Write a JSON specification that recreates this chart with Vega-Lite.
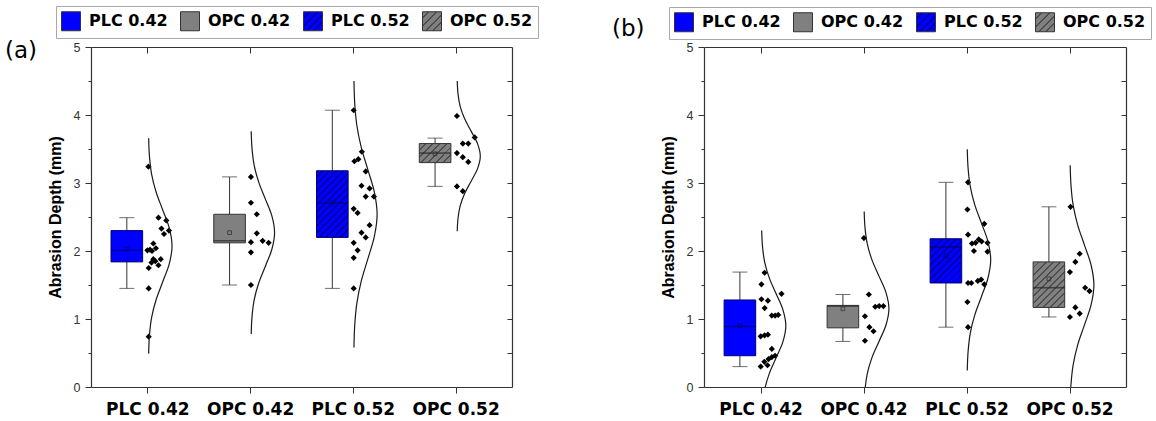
{
  "$schema": "https://vega.github.io/schema/vega-lite/v6.json",
  "padding": {"left": 4, "top": 5, "right": 4, "bottom": 3},
  "background": "white",
  "config": {
    "view": {"stroke": null},
    "axis": {"domainColor": "#333", "domainWidth": 1.2, "tickColor": "#333", "tickWidth": 1, "grid": false}
  },
  "datasets": {
    "boxes": [
      {"panel":"a","group":"PLC 0.42","pos":0.8,"lo":1.45,"q1":1.84,"med":2.01,"q3":2.30,"hi":2.49,"mean":2.03},
      {"panel":"a","group":"OPC 0.42","pos":1.8,"lo":1.50,"q1":2.12,"med":2.15,"q3":2.54,"hi":3.09,"mean":2.27},
      {"panel":"a","group":"PLC 0.52","pos":2.8,"lo":1.45,"q1":2.20,"med":2.71,"q3":3.18,"hi":4.07,"mean":2.71},
      {"panel":"a","group":"OPC 0.52","pos":3.8,"lo":2.95,"q1":3.30,"med":3.44,"q3":3.58,"hi":3.66,"mean":3.43},
      {"panel":"b","group":"PLC 0.42","pos":0.8,"lo":0.30,"q1":0.46,"med":0.89,"q3":1.28,"hi":1.69,"mean":0.90},
      {"panel":"b","group":"OPC 0.42","pos":1.8,"lo":0.67,"q1":0.87,"med":1.19,"q3":1.20,"hi":1.36,"mean":1.15},
      {"panel":"b","group":"PLC 0.52","pos":2.8,"lo":0.88,"q1":1.53,"med":2.06,"q3":2.18,"hi":3.01,"mean":1.93},
      {"panel":"b","group":"OPC 0.52","pos":3.8,"lo":1.03,"q1":1.17,"med":1.46,"q3":1.84,"hi":2.65,"mean":1.59}
    ],
    "points": [
      {"panel":"a","group":"PLC 0.42","pos":1.01,"v":3.24},
      {"panel":"a","group":"PLC 0.42","pos":1.108,"v":2.49},
      {"panel":"a","group":"PLC 0.42","pos":1.184,"v":2.45},
      {"panel":"a","group":"PLC 0.42","pos":1.137,"v":2.33},
      {"panel":"a","group":"PLC 0.42","pos":1.21,"v":2.30},
      {"panel":"a","group":"PLC 0.42","pos":1.162,"v":2.25},
      {"panel":"a","group":"PLC 0.42","pos":1.058,"v":2.11},
      {"panel":"a","group":"PLC 0.42","pos":1.083,"v":2.04},
      {"panel":"a","group":"PLC 0.42","pos":1.026,"v":2.02},
      {"panel":"a","group":"PLC 0.42","pos":1.0,"v":2.01},
      {"panel":"a","group":"PLC 0.42","pos":1.045,"v":2.00},
      {"panel":"a","group":"PLC 0.42","pos":1.058,"v":1.88},
      {"panel":"a","group":"PLC 0.42","pos":1.13,"v":1.88},
      {"panel":"a","group":"PLC 0.42","pos":1.077,"v":1.85},
      {"panel":"a","group":"PLC 0.42","pos":1.04,"v":1.83},
      {"panel":"a","group":"PLC 0.42","pos":1.108,"v":1.79},
      {"panel":"a","group":"PLC 0.42","pos":1.013,"v":1.75},
      {"panel":"a","group":"PLC 0.42","pos":1.013,"v":1.45},
      {"panel":"a","group":"PLC 0.42","pos":1.013,"v":0.74},
      {"panel":"a","group":"OPC 0.42","pos":2.008,"v":3.09},
      {"panel":"a","group":"OPC 0.42","pos":2.008,"v":2.71},
      {"panel":"a","group":"OPC 0.42","pos":2.065,"v":2.54},
      {"panel":"a","group":"OPC 0.42","pos":2.065,"v":2.26},
      {"panel":"a","group":"OPC 0.42","pos":2.122,"v":2.15},
      {"panel":"a","group":"OPC 0.42","pos":2.18,"v":2.12},
      {"panel":"a","group":"OPC 0.42","pos":2.008,"v":2.13},
      {"panel":"a","group":"OPC 0.42","pos":2.008,"v":1.98},
      {"panel":"a","group":"OPC 0.42","pos":2.008,"v":1.50},
      {"panel":"a","group":"PLC 0.52","pos":3.008,"v":4.07},
      {"panel":"a","group":"PLC 0.52","pos":3.087,"v":3.46},
      {"panel":"a","group":"PLC 0.52","pos":3.053,"v":3.35},
      {"panel":"a","group":"PLC 0.52","pos":3.015,"v":3.32},
      {"panel":"a","group":"PLC 0.52","pos":3.125,"v":3.17},
      {"panel":"a","group":"PLC 0.52","pos":3.084,"v":2.96},
      {"panel":"a","group":"PLC 0.52","pos":3.163,"v":2.92},
      {"panel":"a","group":"PLC 0.52","pos":3.125,"v":2.80},
      {"panel":"a","group":"PLC 0.52","pos":3.205,"v":2.80},
      {"panel":"a","group":"PLC 0.52","pos":3.008,"v":2.62},
      {"panel":"a","group":"PLC 0.52","pos":3.046,"v":2.56},
      {"panel":"a","group":"PLC 0.52","pos":3.163,"v":2.38},
      {"panel":"a","group":"PLC 0.52","pos":3.084,"v":2.27},
      {"panel":"a","group":"PLC 0.52","pos":3.125,"v":2.20},
      {"panel":"a","group":"PLC 0.52","pos":3.008,"v":2.12},
      {"panel":"a","group":"PLC 0.52","pos":3.046,"v":2.01},
      {"panel":"a","group":"PLC 0.52","pos":3.008,"v":1.90},
      {"panel":"a","group":"PLC 0.52","pos":3.008,"v":1.45},
      {"panel":"a","group":"OPC 0.52","pos":4.013,"v":3.985},
      {"panel":"a","group":"OPC 0.52","pos":4.186,"v":3.67},
      {"panel":"a","group":"OPC 0.52","pos":4.07,"v":3.58},
      {"panel":"a","group":"OPC 0.52","pos":4.123,"v":3.58},
      {"panel":"a","group":"OPC 0.52","pos":4.013,"v":3.44},
      {"panel":"a","group":"OPC 0.52","pos":4.07,"v":3.38},
      {"panel":"a","group":"OPC 0.52","pos":4.123,"v":3.31},
      {"panel":"a","group":"OPC 0.52","pos":4.013,"v":2.95},
      {"panel":"a","group":"OPC 0.52","pos":4.07,"v":2.88},
      {"panel":"b","group":"PLC 0.42","pos":1.04,"v":1.68},
      {"panel":"b","group":"PLC 0.42","pos":1.009,"v":1.51},
      {"panel":"b","group":"PLC 0.42","pos":1.204,"v":1.37},
      {"panel":"b","group":"PLC 0.42","pos":1.009,"v":1.29},
      {"panel":"b","group":"PLC 0.42","pos":1.072,"v":1.27},
      {"panel":"b","group":"PLC 0.42","pos":1.04,"v":1.16},
      {"panel":"b","group":"PLC 0.42","pos":1.11,"v":1.05},
      {"panel":"b","group":"PLC 0.42","pos":1.142,"v":1.05},
      {"panel":"b","group":"PLC 0.42","pos":1.172,"v":1.06},
      {"panel":"b","group":"PLC 0.42","pos":1.002,"v":0.745},
      {"panel":"b","group":"PLC 0.42","pos":1.04,"v":0.76},
      {"panel":"b","group":"PLC 0.42","pos":1.072,"v":0.77},
      {"panel":"b","group":"PLC 0.42","pos":1.11,"v":0.56},
      {"panel":"b","group":"PLC 0.42","pos":1.142,"v":0.46},
      {"panel":"b","group":"PLC 0.42","pos":1.11,"v":0.44},
      {"panel":"b","group":"PLC 0.42","pos":1.078,"v":0.41},
      {"panel":"b","group":"PLC 0.42","pos":1.037,"v":0.37},
      {"panel":"b","group":"PLC 0.42","pos":1.068,"v":0.32},
      {"panel":"b","group":"PLC 0.42","pos":1.002,"v":0.30},
      {"panel":"b","group":"OPC 0.42","pos":2.004,"v":2.19},
      {"panel":"b","group":"OPC 0.42","pos":2.052,"v":1.36},
      {"panel":"b","group":"OPC 0.42","pos":2.114,"v":1.18},
      {"panel":"b","group":"OPC 0.42","pos":2.152,"v":1.19},
      {"panel":"b","group":"OPC 0.42","pos":2.193,"v":1.19},
      {"panel":"b","group":"OPC 0.42","pos":2.014,"v":1.04},
      {"panel":"b","group":"OPC 0.42","pos":2.057,"v":0.88},
      {"panel":"b","group":"OPC 0.42","pos":2.097,"v":0.82},
      {"panel":"b","group":"OPC 0.42","pos":2.014,"v":0.68},
      {"panel":"b","group":"PLC 0.52","pos":3.015,"v":3.01},
      {"panel":"b","group":"PLC 0.52","pos":3.009,"v":2.61},
      {"panel":"b","group":"PLC 0.52","pos":3.173,"v":2.40},
      {"panel":"b","group":"PLC 0.52","pos":3.015,"v":2.24},
      {"panel":"b","group":"PLC 0.52","pos":3.053,"v":2.11},
      {"panel":"b","group":"PLC 0.52","pos":3.088,"v":2.12},
      {"panel":"b","group":"PLC 0.52","pos":3.119,"v":2.17},
      {"panel":"b","group":"PLC 0.52","pos":3.147,"v":2.14},
      {"panel":"b","group":"PLC 0.52","pos":3.204,"v":2.12},
      {"panel":"b","group":"PLC 0.52","pos":3.072,"v":2.00},
      {"panel":"b","group":"PLC 0.52","pos":3.204,"v":1.99},
      {"panel":"b","group":"PLC 0.52","pos":3.015,"v":1.53},
      {"panel":"b","group":"PLC 0.52","pos":3.047,"v":1.53},
      {"panel":"b","group":"PLC 0.52","pos":3.11,"v":1.56},
      {"panel":"b","group":"PLC 0.52","pos":3.142,"v":1.58},
      {"panel":"b","group":"PLC 0.52","pos":3.173,"v":1.51},
      {"panel":"b","group":"PLC 0.52","pos":3.009,"v":1.25},
      {"panel":"b","group":"PLC 0.52","pos":3.015,"v":0.88},
      {"panel":"b","group":"OPC 0.52","pos":4.01,"v":2.65},
      {"panel":"b","group":"OPC 0.52","pos":4.099,"v":1.96},
      {"panel":"b","group":"OPC 0.52","pos":4.057,"v":1.84},
      {"panel":"b","group":"OPC 0.52","pos":4.004,"v":1.69},
      {"panel":"b","group":"OPC 0.52","pos":4.152,"v":1.46},
      {"panel":"b","group":"OPC 0.52","pos":4.194,"v":1.41},
      {"panel":"b","group":"OPC 0.52","pos":4.057,"v":1.17},
      {"panel":"b","group":"OPC 0.52","pos":4.099,"v":1.08},
      {"panel":"b","group":"OPC 0.52","pos":4.004,"v":1.03}
    ],
    "curves": [
      {"panel":"a","group":"PLC 0.42","v":0.491,"pos":1.0125},
      {"panel":"a","group":"PLC 0.42","v":0.755,"pos":1.0201},
      {"panel":"a","group":"PLC 0.42","v":1.019,"pos":1.041},
      {"panel":"a","group":"PLC 0.42","v":1.283,"pos":1.0848},
      {"panel":"a","group":"PLC 0.42","v":1.547,"pos":1.1496},
      {"panel":"a","group":"PLC 0.42","v":1.811,"pos":1.2129},
      {"panel":"a","group":"PLC 0.42","v":2.075,"pos":1.24},
      {"panel":"a","group":"PLC 0.42","v":2.339,"pos":1.2129},
      {"panel":"a","group":"PLC 0.42","v":2.603,"pos":1.1496},
      {"panel":"a","group":"PLC 0.42","v":2.867,"pos":1.0848},
      {"panel":"a","group":"PLC 0.42","v":3.131,"pos":1.041},
      {"panel":"a","group":"PLC 0.42","v":3.395,"pos":1.0201},
      {"panel":"a","group":"PLC 0.42","v":3.659,"pos":1.0125},
      {"panel":"a","group":"OPC 0.42","v":0.779,"pos":2.0105},
      {"panel":"a","group":"OPC 0.42","v":1.028,"pos":2.0181},
      {"panel":"a","group":"OPC 0.42","v":1.276,"pos":2.039},
      {"panel":"a","group":"OPC 0.42","v":1.525,"pos":2.0828},
      {"panel":"a","group":"OPC 0.42","v":1.773,"pos":2.1476},
      {"panel":"a","group":"OPC 0.42","v":2.022,"pos":2.2109},
      {"panel":"a","group":"OPC 0.42","v":2.27,"pos":2.238},
      {"panel":"a","group":"OPC 0.42","v":2.519,"pos":2.2109},
      {"panel":"a","group":"OPC 0.42","v":2.767,"pos":2.1476},
      {"panel":"a","group":"OPC 0.42","v":3.016,"pos":2.0828},
      {"panel":"a","group":"OPC 0.42","v":3.264,"pos":2.039},
      {"panel":"a","group":"OPC 0.42","v":3.513,"pos":2.0181},
      {"panel":"a","group":"OPC 0.42","v":3.761,"pos":2.0105},
      {"panel":"a","group":"PLC 0.52","v":0.581,"pos":3.0105},
      {"panel":"a","group":"PLC 0.52","v":0.908,"pos":3.018},
      {"panel":"a","group":"PLC 0.52","v":1.234,"pos":3.0388},
      {"panel":"a","group":"PLC 0.52","v":1.561,"pos":3.0821},
      {"panel":"a","group":"PLC 0.52","v":1.887,"pos":3.1464},
      {"panel":"a","group":"PLC 0.52","v":2.214,"pos":3.2091},
      {"panel":"a","group":"PLC 0.52","v":2.54,"pos":3.236},
      {"panel":"a","group":"PLC 0.52","v":2.867,"pos":3.2091},
      {"panel":"a","group":"PLC 0.52","v":3.193,"pos":3.1464},
      {"panel":"a","group":"PLC 0.52","v":3.52,"pos":3.0821},
      {"panel":"a","group":"PLC 0.52","v":3.846,"pos":3.0388},
      {"panel":"a","group":"PLC 0.52","v":4.173,"pos":3.018},
      {"panel":"a","group":"PLC 0.52","v":4.499,"pos":3.0105},
      {"panel":"a","group":"OPC 0.52","v":2.291,"pos":4.0155},
      {"panel":"a","group":"OPC 0.52","v":2.475,"pos":4.023},
      {"panel":"a","group":"OPC 0.52","v":2.659,"pos":4.0436},
      {"panel":"a","group":"OPC 0.52","v":2.843,"pos":4.0868},
      {"panel":"a","group":"OPC 0.52","v":3.027,"pos":4.1508},
      {"panel":"a","group":"OPC 0.52","v":3.211,"pos":4.2132},
      {"panel":"a","group":"OPC 0.52","v":3.395,"pos":4.24},
      {"panel":"a","group":"OPC 0.52","v":3.579,"pos":4.2132},
      {"panel":"a","group":"OPC 0.52","v":3.763,"pos":4.1508},
      {"panel":"a","group":"OPC 0.52","v":3.947,"pos":4.0868},
      {"panel":"a","group":"OPC 0.52","v":4.131,"pos":4.0436},
      {"panel":"a","group":"OPC 0.52","v":4.315,"pos":4.023},
      {"panel":"a","group":"OPC 0.52","v":4.499,"pos":4.0155},
      {"panel":"b","group":"PLC 0.42","v":-0.501,"pos":1.0116},
      {"panel":"b","group":"PLC 0.42","v":-0.268,"pos":1.0194},
      {"panel":"b","group":"PLC 0.42","v":-0.034,"pos":1.041},
      {"panel":"b","group":"PLC 0.42","v":0.2,"pos":1.086},
      {"panel":"b","group":"PLC 0.42","v":0.433,"pos":1.1529},
      {"panel":"b","group":"PLC 0.42","v":0.667,"pos":1.218},
      {"panel":"b","group":"PLC 0.42","v":0.9,"pos":1.246},
      {"panel":"b","group":"PLC 0.42","v":1.134,"pos":1.218},
      {"panel":"b","group":"PLC 0.42","v":1.367,"pos":1.1529},
      {"panel":"b","group":"PLC 0.42","v":1.601,"pos":1.086},
      {"panel":"b","group":"PLC 0.42","v":1.834,"pos":1.041},
      {"panel":"b","group":"PLC 0.42","v":2.068,"pos":1.0194},
      {"panel":"b","group":"PLC 0.42","v":2.301,"pos":1.0116},
      {"panel":"b","group":"OPC 0.42","v":-0.281,"pos":2.0067},
      {"panel":"b","group":"OPC 0.42","v":-0.043,"pos":2.0147},
      {"panel":"b","group":"OPC 0.42","v":0.196,"pos":2.0368},
      {"panel":"b","group":"OPC 0.42","v":0.435,"pos":2.083},
      {"panel":"b","group":"OPC 0.42","v":0.673,"pos":2.1515},
      {"panel":"b","group":"OPC 0.42","v":0.912,"pos":2.2183},
      {"panel":"b","group":"OPC 0.42","v":1.15,"pos":2.247},
      {"panel":"b","group":"OPC 0.42","v":1.389,"pos":2.2183},
      {"panel":"b","group":"OPC 0.42","v":1.627,"pos":2.1515},
      {"panel":"b","group":"OPC 0.42","v":1.866,"pos":2.083},
      {"panel":"b","group":"OPC 0.42","v":2.104,"pos":2.0368},
      {"panel":"b","group":"OPC 0.42","v":2.343,"pos":2.0147},
      {"panel":"b","group":"OPC 0.42","v":2.581,"pos":2.0067},
      {"panel":"b","group":"PLC 0.52","v":0.244,"pos":3.0075},
      {"panel":"b","group":"PLC 0.52","v":0.515,"pos":3.0151},
      {"panel":"b","group":"PLC 0.52","v":0.786,"pos":3.036},
      {"panel":"b","group":"PLC 0.52","v":1.057,"pos":3.0798},
      {"panel":"b","group":"PLC 0.52","v":1.328,"pos":3.1446},
      {"panel":"b","group":"PLC 0.52","v":1.599,"pos":3.2079},
      {"panel":"b","group":"PLC 0.52","v":1.87,"pos":3.235},
      {"panel":"b","group":"PLC 0.52","v":2.141,"pos":3.2079},
      {"panel":"b","group":"PLC 0.52","v":2.412,"pos":3.1446},
      {"panel":"b","group":"PLC 0.52","v":2.683,"pos":3.0798},
      {"panel":"b","group":"PLC 0.52","v":2.954,"pos":3.036},
      {"panel":"b","group":"PLC 0.52","v":3.225,"pos":3.0151},
      {"panel":"b","group":"PLC 0.52","v":3.496,"pos":3.0075},
      {"panel":"b","group":"OPC 0.52","v":-0.261,"pos":4.0066},
      {"panel":"b","group":"OPC 0.52","v":0.033,"pos":4.0143},
      {"panel":"b","group":"OPC 0.52","v":0.326,"pos":4.0355},
      {"panel":"b","group":"OPC 0.52","v":0.62,"pos":4.0797},
      {"panel":"b","group":"OPC 0.52","v":0.913,"pos":4.1454},
      {"panel":"b","group":"OPC 0.52","v":1.207,"pos":4.2095},
      {"panel":"b","group":"OPC 0.52","v":1.5,"pos":4.237},
      {"panel":"b","group":"OPC 0.52","v":1.794,"pos":4.2095},
      {"panel":"b","group":"OPC 0.52","v":2.087,"pos":4.1454},
      {"panel":"b","group":"OPC 0.52","v":2.381,"pos":4.0797},
      {"panel":"b","group":"OPC 0.52","v":2.674,"pos":4.0355},
      {"panel":"b","group":"OPC 0.52","v":2.968,"pos":4.0143},
      {"panel":"b","group":"OPC 0.52","v":3.261,"pos":4.0066}
    ]
  },
  "spacing": 72,
  "resolve": {"scale": {"fill": "independent"}, "legend": {"fill": "independent"}},
  "hconcat": [
    {
      "width": 421,
      "height": 340,
      "title": {"text": "(a)", "orient": "left", "anchor": "end", "frame": "group", "angle": 0, "align": "right", "baseline": "alphabetic", "offset": -22, "dy": 11, "font": "DejaVu Sans", "fontSize": 23, "fontWeight": "normal", "color": "#000"},
      "resolve": {"axis": {"x": "independent", "y": "independent"}},
      "layer": [
        {
          "data": {"name": "boxes"},
          "transform": [{"filter": "datum.panel === 'a'"}],
          "mark": {"type": "rule", "color": "#333", "strokeWidth": 1},
          "encoding": {
            "x": {"field": "pos", "type": "quantitative", "scale": {"domain": [0.5, 4.5], "nice": false, "zero": false},
              "axis": {"orient": "bottom", "values": [1, 2, 3, 4], "labelExpr": "datum.value == 1 ? 'PLC 0.42' : datum.value == 2 ? 'OPC 0.42' : datum.value == 3 ? 'PLC 0.52' : 'OPC 0.52'", "labelFont": "DejaVu Sans", "labelFontSize": 17, "labelFontWeight": "bold", "labelColor": "#000", "tickSize": 6, "labelPadding": 8, "title": null}},
            "y": {"field": "lo", "type": "quantitative", "scale": {"domain": [0, 5], "nice": false, "zero": false},
              "axis": {"orient": "left", "values": [0, 1, 2, 3, 4, 5], "title": "Abrasion Depth (mm)", "titleFont": "Liberation Sans", "titleFontSize": 16, "titleFontWeight": "bold", "titleColor": "#000", "titlePadding": 10, "labelFont": "Liberation Sans", "labelFontSize": 12.5, "labelColor": "#333", "tickSize": 6, "labelPadding": 5}},
            "y2": {"field": "hi"}
          }
        },
        {
          "data": {"name": "boxes"},
          "transform": [{"filter": "datum.panel === 'a'"}],
          "mark": {"type": "tick", "orient": "horizontal", "size": 15, "thickness": 1, "color": "#333"},
          "encoding": {
            "x": {"field": "pos", "type": "quantitative", "scale": {"domain": [0.5, 4.5], "nice": false, "zero": false},
              "axis": {"orient": "top", "values": [1, 2, 3, 4], "labels": false, "tickSize": -6, "title": null}},
            "y": {"field": "lo", "type": "quantitative", "scale": {"domain": [0, 5], "nice": false, "zero": false},
              "axis": {"orient": "right", "values": [0.5, 1, 1.5, 2, 2.5, 3, 3.5, 4, 4.5], "labels": false, "tickSize": -5, "title": null}}
          }
        },
        {
          "data": {"name": "boxes"},
          "transform": [{"filter": "datum.panel === 'a'"}],
          "mark": {"type": "tick", "orient": "horizontal", "size": 15, "thickness": 1, "color": "#333"},
          "encoding": {
            "x": {"field": "pos", "type": "quantitative", "scale": {"domain": [0.5, 4.5], "nice": false, "zero": false}, "axis": null},
            "y": {"field": "hi", "type": "quantitative", "scale": {"domain": [0, 5], "nice": false, "zero": false},
              "axis": {"orient": "left", "values": [0.5, 1.5, 2.5, 3.5, 4.5], "labels": false, "tickSize": 3, "domain": false, "title": null}}
          }
        },
        {
          "data": {"name": "boxes"},
          "transform": [{"filter": "datum.panel === 'a'"}],
          "mark": {"type": "bar", "width": 31.6, "strokeWidth": 1},
          "encoding": {
            "x": {"field": "pos", "type": "quantitative", "scale": {"domain": [0.5, 4.5], "nice": false, "zero": false}, "axis": null},
            "y": {"field": "q1", "type": "quantitative", "scale": {"domain": [0, 5], "nice": false, "zero": false}, "axis": null},
            "y2": {"field": "q3"},
            "fill": {
              "field": "group", "type": "nominal",
              "scale": {"domain": ["PLC 0.42", "OPC 0.42", "PLC 0.52", "OPC 0.52"],
                "range": ["#0000ff", "#808080",
                  {"expr": "{'gradient':'linear','x1':0,'y1':0,'x2':1,'y2':1,'stops':[{'offset':0,'color':'#0000ff'},{'offset':0.15,'color':'#0000ff'},{'offset':0.15,'color':'#000099'},{'offset':0.2,'color':'#000099'},{'offset':0.2,'color':'#0000ff'},{'offset':0.35,'color':'#0000ff'},{'offset':0.35,'color':'#000099'},{'offset':0.4,'color':'#000099'},{'offset':0.4,'color':'#0000ff'},{'offset':0.55,'color':'#0000ff'},{'offset':0.55,'color':'#000099'},{'offset':0.6,'color':'#000099'},{'offset':0.6,'color':'#0000ff'},{'offset':0.75,'color':'#0000ff'},{'offset':0.75,'color':'#000099'},{'offset':0.8,'color':'#000099'},{'offset':0.8,'color':'#0000ff'},{'offset':0.95,'color':'#0000ff'},{'offset':0.95,'color':'#000099'},{'offset':1,'color':'#000099'}]}"},
                  {"expr": "{'gradient':'linear','x1':0,'y1':0,'x2':1,'y2':1,'stops':[{'offset':0,'color':'#808080'},{'offset':0.15,'color':'#808080'},{'offset':0.15,'color':'#4d4d4d'},{'offset':0.2,'color':'#4d4d4d'},{'offset':0.2,'color':'#808080'},{'offset':0.35,'color':'#808080'},{'offset':0.35,'color':'#4d4d4d'},{'offset':0.4,'color':'#4d4d4d'},{'offset':0.4,'color':'#808080'},{'offset':0.55,'color':'#808080'},{'offset':0.55,'color':'#4d4d4d'},{'offset':0.6,'color':'#4d4d4d'},{'offset':0.6,'color':'#808080'},{'offset':0.75,'color':'#808080'},{'offset':0.75,'color':'#4d4d4d'},{'offset':0.8,'color':'#4d4d4d'},{'offset':0.8,'color':'#808080'},{'offset':0.95,'color':'#808080'},{'offset':0.95,'color':'#4d4d4d'},{'offset':1,'color':'#4d4d4d'}]}"}
                ]},
              "legend": {"orient": "none", "legendX": -35, "legendY": -41, "direction": "horizontal", "columns": 4, "title": null, "symbolType": "square", "symbolSize": 361, "symbolStrokeColor": "#333", "symbolStrokeWidth": 1, "labelFont": "DejaVu Sans", "labelFontSize": 16, "labelFontWeight": "bold", "labelColor": "#000", "labelOffset": 8, "labelLimit": 300, "columnPadding": 10, "padding": 5, "strokeColor": "#aaaaaa", "fillColor": "#ffffff"},
              "condition": [
                {"test": "datum.group === 'PLC 0.52'", "value": {"gradient": "linear", "x1": 0, "y1": 0, "x2": 0.571, "y2": 1.2035, "stops": [
                  {"offset":0,"color":"#0000ff"},{"offset":0.0536,"color":"#0000ff"},{"offset":0.0536,"color":"#000099"},{"offset":0.0714,"color":"#000099"},
                  {"offset":0.0714,"color":"#0000ff"},{"offset":0.125,"color":"#0000ff"},{"offset":0.125,"color":"#000099"},{"offset":0.1429,"color":"#000099"},
                  {"offset":0.1429,"color":"#0000ff"},{"offset":0.1964,"color":"#0000ff"},{"offset":0.1964,"color":"#000099"},{"offset":0.2143,"color":"#000099"},
                  {"offset":0.2143,"color":"#0000ff"},{"offset":0.2679,"color":"#0000ff"},{"offset":0.2679,"color":"#000099"},{"offset":0.2857,"color":"#000099"},
                  {"offset":0.2857,"color":"#0000ff"},{"offset":0.3393,"color":"#0000ff"},{"offset":0.3393,"color":"#000099"},{"offset":0.3571,"color":"#000099"},
                  {"offset":0.3571,"color":"#0000ff"},{"offset":0.4107,"color":"#0000ff"},{"offset":0.4107,"color":"#000099"},{"offset":0.4286,"color":"#000099"},
                  {"offset":0.4286,"color":"#0000ff"},{"offset":0.4821,"color":"#0000ff"},{"offset":0.4821,"color":"#000099"},{"offset":0.5,"color":"#000099"},
                  {"offset":0.5,"color":"#0000ff"},{"offset":0.5536,"color":"#0000ff"},{"offset":0.5536,"color":"#000099"},{"offset":0.5714,"color":"#000099"},
                  {"offset":0.5714,"color":"#0000ff"},{"offset":0.625,"color":"#0000ff"},{"offset":0.625,"color":"#000099"},{"offset":0.6429,"color":"#000099"},
                  {"offset":0.6429,"color":"#0000ff"},{"offset":0.6964,"color":"#0000ff"},{"offset":0.6964,"color":"#000099"},{"offset":0.7143,"color":"#000099"},
                  {"offset":0.7143,"color":"#0000ff"},{"offset":0.7679,"color":"#0000ff"},{"offset":0.7679,"color":"#000099"},{"offset":0.7857,"color":"#000099"},
                  {"offset":0.7857,"color":"#0000ff"},{"offset":0.8393,"color":"#0000ff"},{"offset":0.8393,"color":"#000099"},{"offset":0.8571,"color":"#000099"},
                  {"offset":0.8571,"color":"#0000ff"},{"offset":0.9107,"color":"#0000ff"},{"offset":0.9107,"color":"#000099"},{"offset":0.9286,"color":"#000099"},
                  {"offset":0.9286,"color":"#0000ff"},{"offset":0.9821,"color":"#0000ff"},{"offset":0.9821,"color":"#000099"},{"offset":1,"color":"#000099"}]}},
                {"test": "datum.group === 'OPC 0.52'", "value": {"gradient": "linear", "x1": 0, "y1": 0, "x2": 1.176, "y2": 0.7071, "stops": [
                  {"offset":0,"color":"#808080"},{"offset":0.1071,"color":"#808080"},{"offset":0.1071,"color":"#4d4d4d"},{"offset":0.1429,"color":"#4d4d4d"},
                  {"offset":0.1429,"color":"#808080"},{"offset":0.25,"color":"#808080"},{"offset":0.25,"color":"#4d4d4d"},{"offset":0.2857,"color":"#4d4d4d"},
                  {"offset":0.2857,"color":"#808080"},{"offset":0.3929,"color":"#808080"},{"offset":0.3929,"color":"#4d4d4d"},{"offset":0.4286,"color":"#4d4d4d"},
                  {"offset":0.4286,"color":"#808080"},{"offset":0.5357,"color":"#808080"},{"offset":0.5357,"color":"#4d4d4d"},{"offset":0.5714,"color":"#4d4d4d"},
                  {"offset":0.5714,"color":"#808080"},{"offset":0.6786,"color":"#808080"},{"offset":0.6786,"color":"#4d4d4d"},{"offset":0.7143,"color":"#4d4d4d"},
                  {"offset":0.7143,"color":"#808080"},{"offset":0.8214,"color":"#808080"},{"offset":0.8214,"color":"#4d4d4d"},{"offset":0.8571,"color":"#4d4d4d"},
                  {"offset":0.8571,"color":"#808080"},{"offset":0.9643,"color":"#808080"},{"offset":0.9643,"color":"#4d4d4d"},{"offset":1,"color":"#4d4d4d"}]}}
              ]
            },
            "stroke": {"condition": {"test": "indexof(datum.group, 'PLC') === 0", "value": "#00006e"}, "value": "#333333"}
          }
        },
        {
          "data": {"name": "boxes"},
          "transform": [{"filter": "datum.panel === 'a'"}],
          "mark": {"type": "tick", "orient": "horizontal", "size": 31.6, "thickness": 1.6},
          "encoding": {
            "x": {"field": "pos", "type": "quantitative", "scale": {"domain": [0.5, 4.5], "nice": false, "zero": false}, "axis": null},
            "y": {"field": "med", "type": "quantitative", "scale": {"domain": [0, 5], "nice": false, "zero": false}, "axis": null},
            "color": {"condition": {"test": "indexof(datum.group, 'PLC') === 0", "value": "#000070"}, "value": "#262626"}
          }
        },
        {
          "data": {"name": "boxes"},
          "transform": [{"filter": "datum.panel === 'a'"}],
          "mark": {"type": "point", "shape": "square", "size": 14, "filled": false, "strokeWidth": 0.8, "opacity": 1},
          "encoding": {
            "x": {"field": "pos", "type": "quantitative", "scale": {"domain": [0.5, 4.5], "nice": false, "zero": false}, "axis": null},
            "y": {"field": "mean", "type": "quantitative", "scale": {"domain": [0, 5], "nice": false, "zero": false}, "axis": null},
            "color": {"condition": {"test": "indexof(datum.group, 'PLC') === 0", "value": "#000070"}, "value": "#333333"}
          }
        },
        {
          "data": {"name": "points"},
          "transform": [{"filter": "datum.panel === 'a'"}],
          "mark": {"type": "point", "shape": "diamond", "size": 38, "filled": true, "color": "#000", "strokeWidth": 0, "opacity": 1},
          "encoding": {
            "x": {"field": "pos", "type": "quantitative", "scale": {"domain": [0.5, 4.5], "nice": false, "zero": false}, "axis": null},
            "y": {"field": "v", "type": "quantitative", "scale": {"domain": [0, 5], "nice": false, "zero": false}, "axis": null}
          }
        },
        {
          "data": {"name": "curves"},
          "transform": [{"filter": "datum.panel === 'a'"}],
          "mark": {"type": "line", "color": "#1a1a1a", "strokeWidth": 1.2, "interpolate": "catmull-rom", "clip": true},
          "encoding": {
            "x": {"field": "pos", "type": "quantitative", "scale": {"domain": [0.5, 4.5], "nice": false, "zero": false}, "axis": null},
            "y": {"field": "v", "type": "quantitative", "scale": {"domain": [0, 5], "nice": false, "zero": false}, "axis": null},
            "detail": {"field": "group"},
            "order": {"field": "v", "type": "quantitative"}
          }
        }
      ]
    },
    {
      "width": 422,
      "height": 340,
      "title": {"text": "(b)", "orient": "left", "anchor": "end", "frame": "group", "angle": 0, "align": "right", "baseline": "alphabetic", "offset": -17, "dy": -11, "font": "DejaVu Sans", "fontSize": 23, "fontWeight": "normal", "color": "#000"},
      "resolve": {"axis": {"x": "independent", "y": "independent"}},
      "layer": [
        {
          "data": {"name": "boxes"},
          "transform": [{"filter": "datum.panel === 'b'"}],
          "mark": {"type": "rule", "color": "#333", "strokeWidth": 1},
          "encoding": {
            "x": {"field": "pos", "type": "quantitative", "scale": {"domain": [0.5, 4.5], "nice": false, "zero": false},
              "axis": {"orient": "bottom", "values": [1, 2, 3, 4], "labelExpr": "datum.value == 1 ? 'PLC 0.42' : datum.value == 2 ? 'OPC 0.42' : datum.value == 3 ? 'PLC 0.52' : 'OPC 0.52'", "labelFont": "DejaVu Sans", "labelFontSize": 17, "labelFontWeight": "bold", "labelColor": "#000", "tickSize": 6, "labelPadding": 8, "title": null}},
            "y": {"field": "lo", "type": "quantitative", "scale": {"domain": [0, 5], "nice": false, "zero": false},
              "axis": {"orient": "left", "values": [0, 1, 2, 3, 4, 5], "title": "Abrasion Depth (mm)", "titleFont": "Liberation Sans", "titleFontSize": 16, "titleFontWeight": "bold", "titleColor": "#000", "titlePadding": 10, "labelFont": "Liberation Sans", "labelFontSize": 12.5, "labelColor": "#333", "tickSize": 6, "labelPadding": 5}},
            "y2": {"field": "hi"}
          }
        },
        {
          "data": {"name": "boxes"},
          "transform": [{"filter": "datum.panel === 'b'"}],
          "mark": {"type": "tick", "orient": "horizontal", "size": 15, "thickness": 1, "color": "#333"},
          "encoding": {
            "x": {"field": "pos", "type": "quantitative", "scale": {"domain": [0.5, 4.5], "nice": false, "zero": false},
              "axis": {"orient": "top", "values": [1, 2, 3, 4], "labels": false, "tickSize": -6, "title": null}},
            "y": {"field": "lo", "type": "quantitative", "scale": {"domain": [0, 5], "nice": false, "zero": false},
              "axis": {"orient": "right", "values": [0.5, 1, 1.5, 2, 2.5, 3, 3.5, 4, 4.5], "labels": false, "tickSize": -5, "title": null}}
          }
        },
        {
          "data": {"name": "boxes"},
          "transform": [{"filter": "datum.panel === 'b'"}],
          "mark": {"type": "tick", "orient": "horizontal", "size": 15, "thickness": 1, "color": "#333"},
          "encoding": {
            "x": {"field": "pos", "type": "quantitative", "scale": {"domain": [0.5, 4.5], "nice": false, "zero": false}, "axis": null},
            "y": {"field": "hi", "type": "quantitative", "scale": {"domain": [0, 5], "nice": false, "zero": false},
              "axis": {"orient": "left", "values": [0.5, 1.5, 2.5, 3.5, 4.5], "labels": false, "tickSize": 3, "domain": false, "title": null}}
          }
        },
        {
          "data": {"name": "boxes"},
          "transform": [{"filter": "datum.panel === 'b'"}],
          "mark": {"type": "bar", "width": 31.6, "strokeWidth": 1},
          "encoding": {
            "x": {"field": "pos", "type": "quantitative", "scale": {"domain": [0.5, 4.5], "nice": false, "zero": false}, "axis": null},
            "y": {"field": "q1", "type": "quantitative", "scale": {"domain": [0, 5], "nice": false, "zero": false}, "axis": null},
            "y2": {"field": "q3"},
            "fill": {
              "field": "group", "type": "nominal",
              "scale": {"domain": ["PLC 0.42", "OPC 0.42", "PLC 0.52", "OPC 0.52"],
                "range": ["#0000ff", "#808080",
                  {"expr": "{'gradient':'linear','x1':0,'y1':0,'x2':1,'y2':1,'stops':[{'offset':0,'color':'#0000ff'},{'offset':0.15,'color':'#0000ff'},{'offset':0.15,'color':'#000099'},{'offset':0.2,'color':'#000099'},{'offset':0.2,'color':'#0000ff'},{'offset':0.35,'color':'#0000ff'},{'offset':0.35,'color':'#000099'},{'offset':0.4,'color':'#000099'},{'offset':0.4,'color':'#0000ff'},{'offset':0.55,'color':'#0000ff'},{'offset':0.55,'color':'#000099'},{'offset':0.6,'color':'#000099'},{'offset':0.6,'color':'#0000ff'},{'offset':0.75,'color':'#0000ff'},{'offset':0.75,'color':'#000099'},{'offset':0.8,'color':'#000099'},{'offset':0.8,'color':'#0000ff'},{'offset':0.95,'color':'#0000ff'},{'offset':0.95,'color':'#000099'},{'offset':1,'color':'#000099'}]}"},
                  {"expr": "{'gradient':'linear','x1':0,'y1':0,'x2':1,'y2':1,'stops':[{'offset':0,'color':'#808080'},{'offset':0.15,'color':'#808080'},{'offset':0.15,'color':'#4d4d4d'},{'offset':0.2,'color':'#4d4d4d'},{'offset':0.2,'color':'#808080'},{'offset':0.35,'color':'#808080'},{'offset':0.35,'color':'#4d4d4d'},{'offset':0.4,'color':'#4d4d4d'},{'offset':0.4,'color':'#808080'},{'offset':0.55,'color':'#808080'},{'offset':0.55,'color':'#4d4d4d'},{'offset':0.6,'color':'#4d4d4d'},{'offset':0.6,'color':'#808080'},{'offset':0.75,'color':'#808080'},{'offset':0.75,'color':'#4d4d4d'},{'offset':0.8,'color':'#4d4d4d'},{'offset':0.8,'color':'#808080'},{'offset':0.95,'color':'#808080'},{'offset':0.95,'color':'#4d4d4d'},{'offset':1,'color':'#4d4d4d'}]}"}
                ]},
              "legend": {"orient": "none", "legendX": -35, "legendY": -40, "direction": "horizontal", "columns": 4, "title": null, "symbolType": "square", "symbolSize": 361, "symbolStrokeColor": "#333", "symbolStrokeWidth": 1, "labelFont": "DejaVu Sans", "labelFontSize": 16, "labelFontWeight": "bold", "labelColor": "#000", "labelOffset": 8, "labelLimit": 300, "columnPadding": 10, "padding": 5, "strokeColor": "#aaaaaa", "fillColor": "#ffffff"},
              "condition": [
                {"test": "datum.group === 'PLC 0.52'", "value": {"gradient": "linear", "x1": 0, "y1": 0, "x2": 0.8114, "y2": 1.1349, "stops": [
                  {"offset":0,"color":"#0000ff"},{"offset":0.0682,"color":"#0000ff"},{"offset":0.0682,"color":"#000099"},{"offset":0.0909,"color":"#000099"},
                  {"offset":0.0909,"color":"#0000ff"},{"offset":0.1591,"color":"#0000ff"},{"offset":0.1591,"color":"#000099"},{"offset":0.1818,"color":"#000099"},
                  {"offset":0.1818,"color":"#0000ff"},{"offset":0.25,"color":"#0000ff"},{"offset":0.25,"color":"#000099"},{"offset":0.2727,"color":"#000099"},
                  {"offset":0.2727,"color":"#0000ff"},{"offset":0.3409,"color":"#0000ff"},{"offset":0.3409,"color":"#000099"},{"offset":0.3636,"color":"#000099"},
                  {"offset":0.3636,"color":"#0000ff"},{"offset":0.4318,"color":"#0000ff"},{"offset":0.4318,"color":"#000099"},{"offset":0.4545,"color":"#000099"},
                  {"offset":0.4545,"color":"#0000ff"},{"offset":0.5227,"color":"#0000ff"},{"offset":0.5227,"color":"#000099"},{"offset":0.5455,"color":"#000099"},
                  {"offset":0.5455,"color":"#0000ff"},{"offset":0.6136,"color":"#0000ff"},{"offset":0.6136,"color":"#000099"},{"offset":0.6364,"color":"#000099"},
                  {"offset":0.6364,"color":"#0000ff"},{"offset":0.7045,"color":"#0000ff"},{"offset":0.7045,"color":"#000099"},{"offset":0.7273,"color":"#000099"},
                  {"offset":0.7273,"color":"#0000ff"},{"offset":0.7955,"color":"#0000ff"},{"offset":0.7955,"color":"#000099"},{"offset":0.8182,"color":"#000099"},
                  {"offset":0.8182,"color":"#0000ff"},{"offset":0.8864,"color":"#0000ff"},{"offset":0.8864,"color":"#000099"},{"offset":0.9091,"color":"#000099"},
                  {"offset":0.9091,"color":"#0000ff"},{"offset":0.9773,"color":"#0000ff"},{"offset":0.9773,"color":"#000099"},{"offset":1,"color":"#000099"}]}},
                {"test": "datum.group === 'OPC 0.52'", "value": {"gradient": "linear", "x1": 0, "y1": 0, "x2": 0.7926, "y2": 1.1437, "stops": [
                  {"offset":0,"color":"#808080"},{"offset":0.0682,"color":"#808080"},{"offset":0.0682,"color":"#4d4d4d"},{"offset":0.0909,"color":"#4d4d4d"},
                  {"offset":0.0909,"color":"#808080"},{"offset":0.1591,"color":"#808080"},{"offset":0.1591,"color":"#4d4d4d"},{"offset":0.1818,"color":"#4d4d4d"},
                  {"offset":0.1818,"color":"#808080"},{"offset":0.25,"color":"#808080"},{"offset":0.25,"color":"#4d4d4d"},{"offset":0.2727,"color":"#4d4d4d"},
                  {"offset":0.2727,"color":"#808080"},{"offset":0.3409,"color":"#808080"},{"offset":0.3409,"color":"#4d4d4d"},{"offset":0.3636,"color":"#4d4d4d"},
                  {"offset":0.3636,"color":"#808080"},{"offset":0.4318,"color":"#808080"},{"offset":0.4318,"color":"#4d4d4d"},{"offset":0.4545,"color":"#4d4d4d"},
                  {"offset":0.4545,"color":"#808080"},{"offset":0.5227,"color":"#808080"},{"offset":0.5227,"color":"#4d4d4d"},{"offset":0.5455,"color":"#4d4d4d"},
                  {"offset":0.5455,"color":"#808080"},{"offset":0.6136,"color":"#808080"},{"offset":0.6136,"color":"#4d4d4d"},{"offset":0.6364,"color":"#4d4d4d"},
                  {"offset":0.6364,"color":"#808080"},{"offset":0.7045,"color":"#808080"},{"offset":0.7045,"color":"#4d4d4d"},{"offset":0.7273,"color":"#4d4d4d"},
                  {"offset":0.7273,"color":"#808080"},{"offset":0.7955,"color":"#808080"},{"offset":0.7955,"color":"#4d4d4d"},{"offset":0.8182,"color":"#4d4d4d"},
                  {"offset":0.8182,"color":"#808080"},{"offset":0.8864,"color":"#808080"},{"offset":0.8864,"color":"#4d4d4d"},{"offset":0.9091,"color":"#4d4d4d"},
                  {"offset":0.9091,"color":"#808080"},{"offset":0.9773,"color":"#808080"},{"offset":0.9773,"color":"#4d4d4d"},{"offset":1,"color":"#4d4d4d"}]}}
              ]
            },
            "stroke": {"condition": {"test": "indexof(datum.group, 'PLC') === 0", "value": "#00006e"}, "value": "#333333"}
          }
        },
        {
          "data": {"name": "boxes"},
          "transform": [{"filter": "datum.panel === 'b'"}],
          "mark": {"type": "tick", "orient": "horizontal", "size": 31.6, "thickness": 1.6},
          "encoding": {
            "x": {"field": "pos", "type": "quantitative", "scale": {"domain": [0.5, 4.5], "nice": false, "zero": false}, "axis": null},
            "y": {"field": "med", "type": "quantitative", "scale": {"domain": [0, 5], "nice": false, "zero": false}, "axis": null},
            "color": {"condition": {"test": "indexof(datum.group, 'PLC') === 0", "value": "#000070"}, "value": "#262626"}
          }
        },
        {
          "data": {"name": "boxes"},
          "transform": [{"filter": "datum.panel === 'b'"}],
          "mark": {"type": "point", "shape": "square", "size": 14, "filled": false, "strokeWidth": 0.8, "opacity": 1},
          "encoding": {
            "x": {"field": "pos", "type": "quantitative", "scale": {"domain": [0.5, 4.5], "nice": false, "zero": false}, "axis": null},
            "y": {"field": "mean", "type": "quantitative", "scale": {"domain": [0, 5], "nice": false, "zero": false}, "axis": null},
            "color": {"condition": {"test": "indexof(datum.group, 'PLC') === 0", "value": "#000070"}, "value": "#333333"}
          }
        },
        {
          "data": {"name": "points"},
          "transform": [{"filter": "datum.panel === 'b'"}],
          "mark": {"type": "point", "shape": "diamond", "size": 38, "filled": true, "color": "#000", "strokeWidth": 0, "opacity": 1},
          "encoding": {
            "x": {"field": "pos", "type": "quantitative", "scale": {"domain": [0.5, 4.5], "nice": false, "zero": false}, "axis": null},
            "y": {"field": "v", "type": "quantitative", "scale": {"domain": [0, 5], "nice": false, "zero": false}, "axis": null}
          }
        },
        {
          "data": {"name": "curves"},
          "transform": [{"filter": "datum.panel === 'b'"}],
          "mark": {"type": "line", "color": "#1a1a1a", "strokeWidth": 1.2, "interpolate": "catmull-rom", "clip": true},
          "encoding": {
            "x": {"field": "pos", "type": "quantitative", "scale": {"domain": [0.5, 4.5], "nice": false, "zero": false}, "axis": null},
            "y": {"field": "v", "type": "quantitative", "scale": {"domain": [0, 5], "nice": false, "zero": false}, "axis": null},
            "detail": {"field": "group"},
            "order": {"field": "v", "type": "quantitative"}
          }
        }
      ]
    }
  ]
}
